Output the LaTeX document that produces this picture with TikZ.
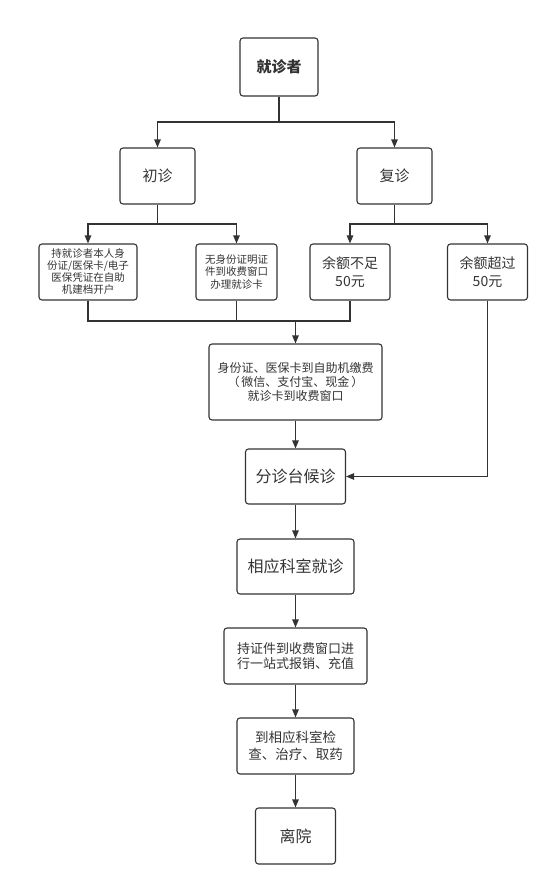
\documentclass[tikz,border=0pt]{standalone}
\usepackage{fontspec}
\setmainfont{Noto Sans CJK SC}
\usepackage{xcolor}
\definecolor{flowgray}{RGB}{51,51,51}
\usetikzlibrary{arrows.meta,positioning}
\tikzset{
  box/.style={draw=flowgray, line width=1.1pt, rounded corners=3pt, inner sep=0pt, align=center, text=flowgray},
  flow/.style={-{Triangle[length=8pt,width=6.5pt]}, line width=1.1pt, flowgray},
  link/.style={line width=1.1pt, flowgray}
}

\begin{document}
\begin{tikzpicture}[x=1pt,y=-1pt]
  \useasboundingbox (0,0) rectangle (554,891);
  % Patient -> first visit / return visit
  \node[box, minimum width=78pt, minimum height=58pt, font=\fontsize{15}{18}\selectfont\bfseries] (patient) at (279,67) {就诊者};
  \node[box, minimum width=75pt, minimum height=56pt, font=\fontsize{15}{18}\selectfont] (first) at (157.5,176) {初诊};
  \node[box, minimum width=75pt, minimum height=56pt, font=\fontsize{15}{18}\selectfont] (revisit) at (394.5,176) {复诊};

  % Second level
  \node[box, minimum width=98pt, minimum height=56pt, font=\fontsize{10.5}{12}\selectfont] (selfReg) at (88,272) {持就诊者本人身\\份证/医保卡/电子\\医保凭证在自助\\机建档开户};
  \node[box, minimum width=81pt, minimum height=56pt, font=\fontsize{10.5}{12.2}\selectfont] (cardReg) at (236.5,272) {无身份证明证\\件到收费窗口\\办理就诊卡};
  \node[box, minimum width=80pt, minimum height=56pt, font=\fontsize{14}{18}\selectfont] (lowBal) at (350,272) {余额不足\\50元};
  \node[box, minimum width=80pt, minimum height=56pt, font=\fontsize{14}{18}\selectfont] (highBal) at (487.5,272) {余额超过\\50元};

  % Main column
  \node[box, minimum width=173pt, minimum height=76pt, font=\fontsize{12}{14}\selectfont] (pay) at (295.5,382) {身份证、医保卡到自助机缴费\\（\,微信、支付宝、现金\,）\\就诊卡到收费窗口};
  \node[box, minimum width=100pt, minimum height=55pt, font=\fontsize{16}{19}\selectfont] (triage) at (295.5,476.5) {分诊台候诊};
  \node[box, minimum width=117pt, minimum height=55pt, font=\fontsize{16}{19}\selectfont] (dept) at (295.5,566.5) {相应科室就诊};
  \node[box, minimum width=143pt, minimum height=56pt, font=\fontsize{13}{15}\selectfont] (settle) at (295.5,656) {持证件到收费窗口进\\行一站式报销、充值};
  \node[box, minimum width=117pt, minimum height=56pt, font=\fontsize{13.5}{16.5}\selectfont] (exam) at (295.5,746) {到相应科室检\\查、治疗、取药};
  \node[box, minimum width=80pt, minimum height=56pt, font=\fontsize{16}{19}\selectfont] (leave) at (295.5,836) {离院};

  % Splits
  \coordinate (splitTop) at (279,122);
  \draw[link] (patient.south) -- (splitTop);
  \draw[flow] (splitTop) -| (first.north);
  \draw[flow] (splitTop) -| (revisit.north);

  \coordinate (splitFirst) at (157.5,224);
  \draw[link] (first.south) -- (splitFirst);
  \draw[flow] (splitFirst) -| (selfReg.north);
  \draw[flow] (splitFirst) -| (cardReg.north);

  \coordinate (splitRevisit) at (394.5,224);
  \draw[link] (revisit.south) -- (splitRevisit);
  \draw[flow] (splitRevisit) -| (lowBal.north);
  \draw[flow] (splitRevisit) -| (highBal.north);

  % Merge into payment
  \coordinate (mergePay) at (295.5,321);
  \draw[link] (selfReg.south) |- (mergePay);
  \draw[link] (lowBal.south) |- (mergePay);
  \draw[link] (cardReg.south) -- (cardReg.south |- mergePay);
  \draw[flow] (mergePay) -- (pay.north);

  % Down the main column
  \draw[flow] (pay.south) -- (triage.north);
  \draw[flow] (highBal.south) |- (triage.east);
  \draw[flow] (triage.south) -- (dept.north);
  \draw[flow] (dept.south) -- (settle.north);
  \draw[flow] (settle.south) -- (exam.north);
  \draw[flow] (exam.south) -- (leave.north);
\end{tikzpicture}
\end{document}
